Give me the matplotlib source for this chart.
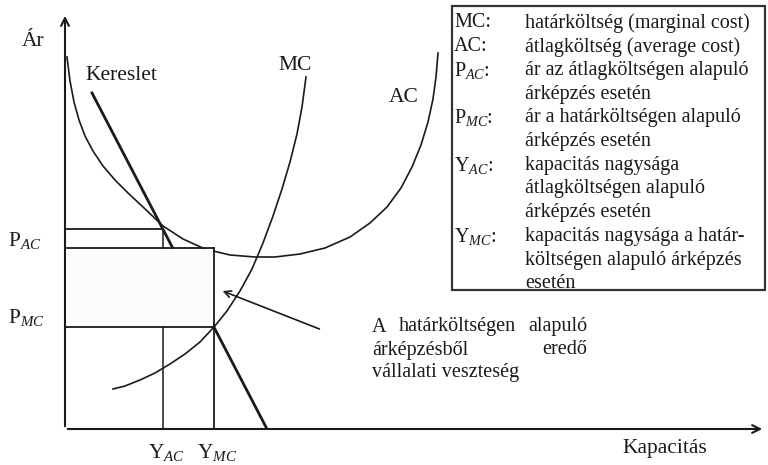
import numpy as np
import matplotlib
matplotlib.use('Agg')
import matplotlib.pyplot as plt
from matplotlib.patches import Rectangle

plt.rcParams['font.family'] = ['Liberation Serif', 'DejaVu Serif']
plt.rcParams['mathtext.fontset'] = 'custom'
plt.rcParams['mathtext.rm'] = 'Liberation Serif'
plt.rcParams['mathtext.it'] = 'Liberation Serif:italic'

# Görbék pontjai (kapacitás, ár)
ac_x = [2, 5, 9, 14, 20, 28, 38, 50, 63, 78, 98, 118, 140, 165, 190, 210,
        235, 260, 285, 305, 322, 336, 347, 356, 363, 368, 371, 373]
ac_y = [372, 348, 327, 309, 293, 278, 263, 249, 236, 222, 203, 190, 180, 174, 172, 172,
        175, 181, 192, 206, 222, 241, 262, 284, 307, 330, 352, 376]

mc_x = [48, 60, 75, 90, 105, 120, 135, 149, 162, 175, 187, 198, 208, 217, 225, 232, 237, 241]
mc_y = [40, 43, 49, 56, 65, 75, 87, 102, 118, 138, 160, 186, 213, 240, 267, 295, 322, 352]

kereslet_x = [27, 202]
kereslet_y = [336, 0]

# Jellemző pontok
Y_AC, P_AC = 98, 200
Y_MC, P_MC = 149, 102
AC_at_YMC = 181

# Magyarázó doboz
jel_cimkek = ['MC:', 'AC:', r'P$_{\mathit{AC}}$:', r'P$_{\mathit{MC}}$:', r'Y$_{\mathit{AC}}$:', r'Y$_{\mathit{MC}}$:']
jel_sorok = [0, 1, 2, 4, 6, 9]
jel_szoveg = ['határköltség (marginal cost)',
              'átlagköltség (average cost)',
              'ár az átlagköltségen alapuló',
              'árképzés esetén',
              'ár a határköltségen alapuló',
              'árképzés esetén',
              'kapacitás nagysága',
              'átlagköltségen alapuló',
              'árképzés esetén',
              'kapacitás nagysága a határ-',
              'költségen alapuló árképzés',
              'esetén']

fig = plt.figure(figsize=(7.68, 4.65), dpi=100)
ax = fig.add_axes([65/768, 36/465, 703/768, 429/465])
ax.set_xlim(0, 703)
ax.set_ylim(0, 429)
ax.axis('off')

k = '#1a1a1a'
fs = 15.5     # feliratok a tengelyeknél
fs2 = 14.5    # doboz és magyarázat

# tengelyek
ax.annotate('', xy=(0, 416), xytext=(0, 0),
            arrowprops=dict(arrowstyle='->', lw=1.5, color=k, mutation_scale=14))
ax.annotate('', xy=(700, 0), xytext=(0, 0),
            arrowprops=dict(arrowstyle='->', lw=1.5, color=k, mutation_scale=14))

# görbék
ax.plot(ac_x, ac_y, color=k, lw=1.2)
ax.plot(mc_x, mc_y, color=k, lw=1.2)
ax.plot(kereslet_x, kereslet_y, color=k, lw=2.0)

# segédvonalak
ax.plot([0, Y_AC], [P_AC, P_AC], color=k, lw=1.3)
ax.plot([Y_AC, Y_AC], [0, P_AC], color=k, lw=1.1)
ax.plot([0, Y_MC], [AC_at_YMC, AC_at_YMC], color=k, lw=1.3)
ax.plot([Y_MC, Y_MC], [0, AC_at_YMC], color=k, lw=1.3)
ax.plot([0, Y_MC], [P_MC, P_MC], color=k, lw=1.3)

# veszteség terület
ax.add_patch(Rectangle((1, P_MC + 1), Y_MC - 2, AC_at_YMC - P_MC - 2,
                       facecolor='#fcfcfc', edgecolor='none', zorder=3))

# nyíl
ax.annotate('', xy=(155, 139), xytext=(257, 99),
            arrowprops=dict(arrowstyle='->', lw=1.2, color=k, mutation_scale=12))

# feliratok
ax.text(-32, 387, 'Ár', fontsize=fs, color=k, ha='center', va='center')
ax.text(20, 354, 'Kereslet', fontsize=fs, color=k, ha='left', va='center')
ax.text(230, 364, 'MC', fontsize=fs, color=k, ha='center', va='center')
ax.text(339, 331, 'AC', fontsize=fs, color=k, ha='center', va='center')
ax.text(-57, 189, r'P$_{\mathit{AC}}$', fontsize=fs, color=k, ha='left', va='center', clip_on=False)
ax.text(-57, 112, r'P$_{\mathit{MC}}$', fontsize=fs, color=k, ha='left', va='center', clip_on=False)
ax.text(Y_AC + 4, -23, r'Y$_{\mathit{AC}}$', fontsize=fs, color=k, ha='center', va='center', clip_on=False)
ax.text(Y_MC + 3, -23, r'Y$_{\mathit{MC}}$', fontsize=fs, color=k, ha='center', va='center', clip_on=False)
ax.text(600, -19, 'Kapacitás', fontsize=fs, color=k, ha='center', va='center', clip_on=False)

ax.text(307, 102, 'A', fontsize=fs2, color=k, ha='left', va='center')
ax.text(392, 102, 'határköltségen', fontsize=fs2, color=k, ha='center', va='center')
ax.text(522, 102, 'alapuló', fontsize=fs2, color=k, ha='right', va='center')
ax.text(307, 79, 'árképzésből', fontsize=fs2, color=k, ha='left', va='center')
ax.text(522, 79, 'eredő', fontsize=fs2, color=k, ha='right', va='center')
ax.text(307, 56, 'vállalati veszteség', fontsize=fs2, color=k, ha='left', va='center')

# magyarázó doboz
ax.add_patch(Rectangle((387, 139), 313, 284, facecolor='white',
                       edgecolor='#333333', lw=1.6, clip_on=False))
sor_y = 406 - 23.7 * np.arange(len(jel_szoveg))
for c, i in zip(jel_cimkek, jel_sorok):
    ax.text(389, sor_y[i], c, fontsize=fs2, color=k, ha='left', va='center')
for t, y in zip(jel_szoveg, sor_y):
    ax.text(460, y, t, fontsize=fs2, color=k, ha='left', va='center')

fig.savefig('out.png', dpi=100)
